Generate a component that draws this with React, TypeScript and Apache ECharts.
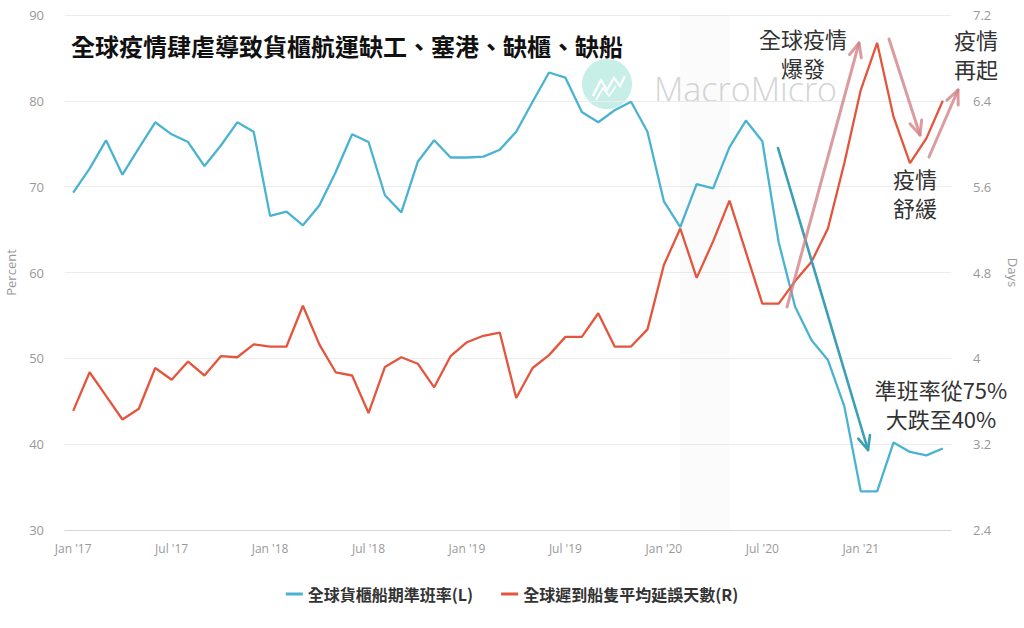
import React, { useEffect, useRef } from "react";
import * as echarts from "echarts";

const months = [
  "Jan '17", "Feb '17", "Mar '17", "Apr '17", "May '17", "Jun '17", "Jul '17", "Aug '17", "Sep '17", "Oct '17", "Nov '17", "Dec '17",
  "Jan '18", "Feb '18", "Mar '18", "Apr '18", "May '18", "Jun '18", "Jul '18", "Aug '18", "Sep '18", "Oct '18", "Nov '18", "Dec '18",
  "Jan '19", "Feb '19", "Mar '19", "Apr '19", "May '19", "Jun '19", "Jul '19", "Aug '19", "Sep '19", "Oct '19", "Nov '19", "Dec '19",
  "Jan '20", "Feb '20", "Mar '20", "Apr '20", "May '20", "Jun '20", "Jul '20", "Aug '20", "Sep '20", "Oct '20", "Nov '20", "Dec '20",
  "Jan '21", "Feb '21", "Mar '21", "Apr '21", "May '21", "Jun '21",
];

const reliability = [
  69.3, 72.1, 75.4, 71.4, 74.5, 77.5, 76.1, 75.2, 72.4, 74.8, 77.5, 76.4,
  66.6, 67.1, 65.5, 67.8, 71.7, 76.1, 75.2, 69.0, 67.0, 72.9, 75.4, 73.4,
  73.4, 73.5, 74.3, 76.4, 79.9, 83.3, 82.7, 78.7, 77.5, 78.9, 79.9, 76.4,
  68.3, 65.3, 70.3, 69.8, 74.6, 77.7, 75.3, 63.5, 56.0, 52.1, 49.8, 44.4,
  34.5, 34.5, 40.2, 39.1, 38.7, 39.5,
];

const delayDays = [
  3.51, 3.87, 3.65, 3.43, 3.53, 3.91, 3.80, 3.97, 3.84, 4.02, 4.01, 4.13,
  4.11, 4.11, 4.49, 4.13, 3.87, 3.84, 3.49, 3.92, 4.01, 3.95, 3.73, 4.02,
  4.15, 4.21, 4.24, 3.63, 3.91, 4.03, 4.20, 4.20, 4.42, 4.11, 4.11, 4.27,
  4.87, 5.21, 4.75, 5.09, 5.47, 4.99, 4.51, 4.51, 4.72, 4.90, 5.21, 5.82,
  6.50, 6.94, 6.25, 5.82, 6.05, 6.40,
];

const seriesNames = ["全球貨櫃船期準班率(L)", "全球遲到船隻平均延誤天數(R)"];
const titleText = "全球疫情肆虐導致貨櫃航運缺工、塞港、缺櫃、缺船";
const shadeRange = ["Feb '20", "May '20"];

const CJK = "'Noto Sans CJK TC', 'Noto Sans CJK SC', sans-serif";

function arrow(x1: number, y1: number, x2: number, y2: number, color: string, w: number) {
  const ang = Math.atan2(y2 - y1, x2 - x1);
  const L = 15;
  const a = 0.42;
  const p1 = [x2 - L * Math.cos(ang - a), y2 - L * Math.sin(ang - a)];
  const p2 = [x2 - L * Math.cos(ang + a), y2 - L * Math.sin(ang + a)];
  return [
    { type: "line", z: 100, shape: { x1, y1, x2, y2 }, style: { stroke: color, lineWidth: w, lineCap: "round" } },
    { type: "polyline", z: 100, shape: { points: [p1, [x2, y2], p2] }, style: { stroke: color, lineWidth: w, fill: null, lineCap: "round", lineJoin: "round" } },
  ];
}

function label(text: string, x: number, y: number) {
  return {
    type: "text",
    z: 100,
    style: {
      text,
      x,
      y,
      align: "center",
      verticalAlign: "middle",
      fontSize: 22,
      lineHeight: 29,
      fontFamily: CJK,
      fill: "#333",
    },
  };
}

export default function App() {
  const ref = useRef<HTMLDivElement>(null);

  useEffect(() => {
    document.body.style.margin = "0";
    if (!ref.current) return;
    const chart = echarts.init(ref.current, null, { renderer: "svg" });
    const pink = "rgba(210,128,132,0.78)";
    const teal = "#3b9fb6";

    const option: any = {
      animation: false,
      backgroundColor: "#fff",
      title: {
        text: titleText,
        left: 66,
        top: 28,
        textStyle: { fontSize: 24, fontWeight: "bold", color: "#111", fontFamily: CJK },
      },
      legend: {
        data: seriesNames,
        top: 581,
        left: "center",
        icon: "rect",
        itemWidth: 17,
        itemHeight: 3,
        itemGap: 28,
        textStyle: { fontSize: 16, color: "#333", fontWeight: "bold", fontFamily: CJK },
      },
      grid: { left: 65, right: 73, top: 15, bottom: 98, containLabel: false, outerBoundsMode: "none" },
      xAxis: {
        type: "category",
        data: months,
        boundaryGap: true,
        axisLine: { lineStyle: { color: "#d6d6d6" } },
        axisTick: { interval: 5, alignWithLabel: true, length: 6, lineStyle: { color: "#cfcfcf" } },
        axisLabel: { interval: 5, color: "#999", fontSize: 12, margin: 12, fontFamily: "'Open Sans', sans-serif" },
        splitLine: { show: false },
      },
      yAxis: [
        {
          type: "value",
          min: 30,
          max: 90,
          interval: 10,
          name: "Percent",
          nameLocation: "middle",
          nameGap: 48,
          nameTextStyle: { color: "#999", fontSize: 13, fontFamily: "'Open Sans', sans-serif" },
          axisLabel: { color: "#999", fontSize: 13, margin: 21, fontFamily: "'Open Sans', sans-serif" },
          axisLine: { show: false },
          axisTick: { show: false },
          splitLine: { lineStyle: { color: "#ececec" } },
        },
        {
          type: "value",
          min: 2.4,
          max: 7.2,
          interval: 0.8,
          position: "right",
          name: "Days",
          nameLocation: "middle",
          nameGap: 55,
          nameRotate: -90,
          nameTextStyle: { color: "#999", fontSize: 13, fontFamily: "'Open Sans', sans-serif" },
          axisLabel: {
            color: "#999",
            fontSize: 13,
            margin: 22,
            fontFamily: "'Open Sans', sans-serif",
            formatter: (v: number) => String(Math.round(v * 10) / 10),
          },
          axisLine: { show: false },
          axisTick: { show: false },
          splitLine: { show: false },
        },
      ],
      series: [
        {
          name: seriesNames[0],
          type: "line",
          yAxisIndex: 0,
          data: reliability,
          symbol: "none",
          lineStyle: { width: 2.3, color: "#4bb3d2" },
          itemStyle: { color: "#4bb3d2" },
          markArea: {
            silent: true,
            itemStyle: { color: "rgba(200,200,200,0.07)" },
            data: [[{ xAxis: shadeRange[0] }, { xAxis: shadeRange[1] }]],
          },
        },
        {
          name: seriesNames[1],
          type: "line",
          yAxisIndex: 1,
          data: delayDays,
          symbol: "none",
          lineStyle: { width: 2.3, color: "#e4553e" },
          itemStyle: { color: "#e4553e" },
        },
      ],
      graphic: [
        { type: "circle", z: -1, shape: { cx: 607, cy: 84, r: 25 }, style: { fill: "#c8efe7" } },
        {
          type: "polyline",
          z: -1,
          shape: { points: [[593, 96], [601, 80], [607, 90], [614, 78], [620, 86], [625, 76]] },
          style: { stroke: "#fff", lineWidth: 2.2, fill: null },
        },
        {
          type: "polyline",
          z: -1,
          shape: { points: [[596, 100], [603, 88], [609, 96], [616, 86]] },
          style: { stroke: "#fff", lineWidth: 1.6, fill: null },
        },
        {
          type: "text",
          z: -1,
          style: {
            text: "MacroMicro",
            x: 654,
            y: 89,
            verticalAlign: "middle",
            fontSize: 34,
            fontFamily: "'Open Sans', sans-serif",
            fontWeight: 300,
            fill: "#d4d4d4",
          },
        },
        ...arrow(778, 148, 868, 450, teal, 2.6),
        ...arrow(787, 307, 859, 43, pink, 3),
        ...arrow(889, 39, 920, 135, pink, 3),
        ...arrow(929, 157, 958, 90, pink, 3),
        label("全球疫情\n爆發", 803, 52),
        label("疫情\n再起", 976, 53),
        label("疫情\n舒緩", 915, 192),
        label("準班率從75%\n大跌至40%", 941, 403),
      ],
    };

    chart.setOption(option);
    return () => chart.dispose();
  }, []);

  return (
    <div
      ref={ref}
      style={{ width: 1024, height: 628, position: "absolute", left: 0, top: 0 }}
    />
  );
}
